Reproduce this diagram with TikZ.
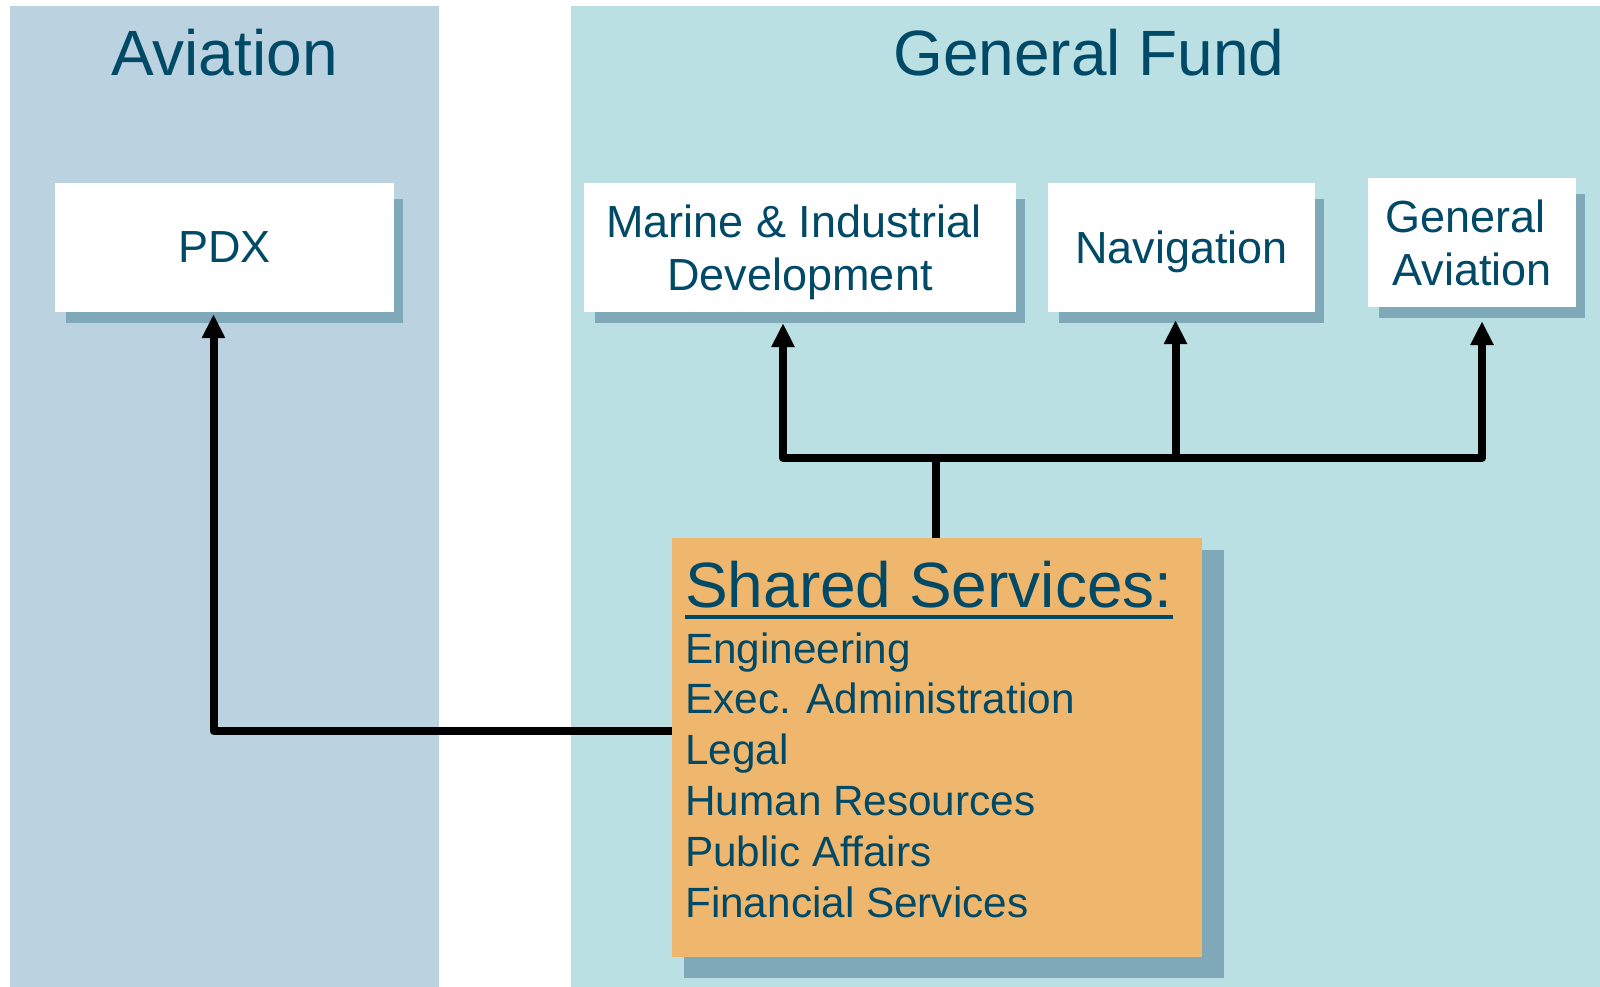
\documentclass[tikz,border=0pt]{standalone}
\usepackage{fontspec}
\setmainfont{Liberation Sans}
\usetikzlibrary{arrows.meta,calc}
\definecolor{avbg}{RGB}{187,211,225}
\definecolor{gfbg}{RGB}{186,224,227}
\definecolor{shadec}{RGB}{127,169,184}
\definecolor{svc}{RGB}{239,182,110}
\definecolor{ink}{RGB}{0,73,103}
\pgfdeclarelayer{panels}
\pgfdeclarelayer{shades}
\pgfsetlayers{panels,shades,main}
% trailing word space kept at the end of a centred line
\newcommand{\trailsp}{\makebox[0.278em]{}}

\begin{document}
\begin{tikzpicture}[x=1pt,y=-1pt,
  title/.style={text=ink, font=\fontsize{64}{70}\selectfont, anchor=base, inner sep=0pt},
  unit/.style={fill=white, text=ink, font=\fontsize{45}{53}\selectfont, align=center,
               inner sep=0pt, text depth=0pt, minimum height=129pt},
  svcbox/.style={fill=svc, inner sep=0pt},
  item/.style={text=ink, font=\fontsize{42.3}{50}\selectfont, anchor=base west, inner sep=0pt},
  link/.style={line width=8pt, line join=round},
  arrow/.style={link, -{Triangle[length=24pt,width=22pt]}}]

\useasboundingbox (0,0) rectangle (1600,987);

% fund panels
\begin{pgfonlayer}{panels}
  \fill[white] (0,0) rectangle (1600,987);
  \fill[avbg] (10,6) rectangle (439,987);
  \fill[gfbg] (571,6) rectangle (1600,987);
\end{pgfonlayer}

\node[title] (avtitle) at (224.5,76) {Aviation};
\node[title] (gftitle) at (1089,76) {General Fund};

% business units
\node[unit, minimum width=339pt] (pdx)    at (224.5,247.5) {PDX};
\node[unit, minimum width=432pt] (marine) at (800,247.5)   {Marine \& Industrial\trailsp\\Development};
\node[unit, minimum width=267pt] (nav)    at (1181.5,247.5){Navigation};
\node[unit, minimum width=208pt] (ga)     at (1472,242.5)  {General\trailsp\\Aviation};

% shared services box
\node[svcbox, minimum width=530pt, minimum height=419pt] (shared) at (937,747.5) {};
\node[item, font=\fontsize{64}{70}\selectfont] (sstitle) at (685,607) {Shared Services:};
\draw[ink, line width=3.5pt] ($(sstitle.base west)+(0,10)$) -- ($(sstitle.base east)+(0,10)$);
\foreach \name/\y/\txt in {eng/663/Engineering, exec/713.8/Exec. Administration,
    legal/764.6/Legal, hr/815.4/Human Resources, pa/866.2/Public Affairs,
    fin/917/Financial Services}
  \node[item] (\name) at (685,\y) {\txt};

% drop shadows
\begin{pgfonlayer}{shades}
  \foreach \n in {pdx,marine,nav,ga}
    \fill[shadec] ($(\n.south west)+(11,11)$) rectangle ($(\n.north east)+(9,16)$);
  \fill[shadec] ($(shared.south west)+(12,21)$) rectangle ($(shared.north east)+(22,12)$);
\end{pgfonlayer}

% connectors
\coordinate (hub)    at (936,458);
\coordinate (mfoot)  at (783,458);
\coordinate (nfoot)  at (1175.5,458);
\coordinate (gfoot)  at (1482,458);
\coordinate (elbow)  at (213.5,731);

\draw[link, {Triangle[length=24pt,width=22pt]}-{Triangle[length=24pt,width=22pt]}]
  ($(mfoot |- marine.south)+(0,11)$) -- (mfoot) -- (gfoot) -- ($(gfoot |- ga.south)+(0,14)$);
\draw[arrow] (nfoot) -- ($(nfoot |- nav.south)+(0,8)$);
\draw[link] (shared.north -| hub) -- (hub);
\draw[arrow] (shared.west |- elbow) -- (elbow) -- ($(elbow |- pdx.south)+(0,2)$);

\end{tikzpicture}
\end{document}
